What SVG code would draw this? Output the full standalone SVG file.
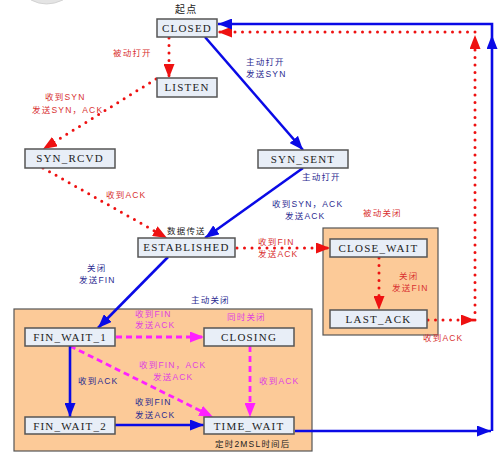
<svg xmlns="http://www.w3.org/2000/svg" width="499" height="453" viewBox="0 0 499 453">
<style>
.bx{fill:#e8eef7;stroke:#555;stroke-width:1.5}
.grp{fill:#fcca98;stroke:#555;stroke-width:1.2}
.bt{font-family:"Liberation Serif","DejaVu Serif",serif;font-size:11px;letter-spacing:1.2px;fill:#222;text-anchor:middle}
.lb{font-family:"Liberation Sans","Noto Sans CJK SC",sans-serif;font-size:8.5px;letter-spacing:1.2px}
.r{fill:#d83030}.b{fill:#2a2a90}.m{fill:#e040e0}.k{fill:#222}
.red{fill:none;stroke:#ee1111;stroke-width:3;stroke-dasharray:0 7.5;stroke-linecap:round}
.blue{fill:none;stroke:#0a0ae6;stroke-width:2.6}
.mag{fill:none;stroke:#ff20ff;stroke-width:2.8;stroke-dasharray:6 4}
</style>
<defs>
<marker id="ar" viewBox="0 0 14 11" refX="14" refY="5.5" markerWidth="14" markerHeight="11" orient="auto" markerUnits="userSpaceOnUse"><path d="M0,0L14,5.5L0,11z" fill="#ee1111"/></marker>
<marker id="ab" viewBox="0 0 14 11" refX="14" refY="5.5" markerWidth="14" markerHeight="11" orient="auto" markerUnits="userSpaceOnUse"><path d="M0,0L14,5.5L0,11z" fill="#0a0ae6"/></marker>
<marker id="am" viewBox="0 0 14 11" refX="14" refY="5.5" markerWidth="14" markerHeight="11" orient="auto" markerUnits="userSpaceOnUse"><path d="M0,0L14,5.5L0,11z" fill="#ff20ff"/></marker>
</defs>
<rect width="499" height="453" fill="#fff"/>
<path d="M31,0 Q46,8 63,0" fill="#e4e4e4" stroke="#ccc" stroke-width="0.8"/>
<g id="group-passive"><rect class="grp" x="323" y="228" width="115" height="107"/></g>
<g id="group-active"><rect class="grp" x="14" y="309" width="298" height="142"/></g>
<g id="connectors">
<path class="red" d="M169,38 L169,78" marker-end="url(#ar)"/>
<path class="red" d="M156,79 L43,149" marker-end="url(#ar)"/>
<path class="blue" d="M205,37 L303,150" marker-end="url(#ab)"/>
<path class="red" d="M43,168 L167,238" marker-end="url(#ar)"/>
<path class="blue" d="M303,168 L205,238" marker-end="url(#ab)"/>
<path class="red" d="M237,248 L330,248" marker-end="url(#ar)"/>
<path class="red" d="M379,258 L379,310" marker-end="url(#ar)"/>
<path class="red" d="M428,320 L475,320" marker-end="url(#ar)"/>
<path class="red" d="M475,320 L475,35" marker-end="url(#ar)"/>
<path class="red" d="M475,32 L218,32" marker-end="url(#ar)"/>
<path class="blue" d="M295,431 L491,431" marker-end="url(#ab)"/>
<path class="blue" d="M492,431 L492,35" marker-end="url(#ab)"/>
<path class="blue" d="M492,35 L492,24 L218,24" marker-end="url(#ab)"/>
<path class="blue" d="M168,257 L98,328" marker-end="url(#ab)"/>
<path class="mag" d="M116,337 L204,337" marker-end="url(#am)"/>
<path class="mag" d="M70,346 L213,417" marker-end="url(#am)"/>
<path class="blue" d="M70,346 L70,417" marker-end="url(#ab)"/>
<path class="blue" d="M115,425 L204,425" marker-end="url(#ab)"/>
<path class="mag" d="M250,346 L250,417" marker-end="url(#am)"/>
</g>
<g id="closed"><rect class="bx" x="157" y="19" width="60" height="18"/><text class="bt" x="187" y="32">CLOSED</text></g>
<g id="listen"><rect class="bx" x="157" y="78" width="60" height="19"/><text class="bt" x="187" y="91">LISTEN</text></g>
<g id="syn_rcvd"><rect class="bx" x="25" y="149" width="90" height="19"/><text class="bt" x="70" y="162">SYN_RCVD</text></g>
<g id="syn_sent"><rect class="bx" x="258" y="150" width="90" height="18"/><text class="bt" x="303" y="163">SYN_SENT</text></g>
<g id="established"><rect class="bx" x="138" y="238" width="97" height="19"/><text class="bt" x="186.5" y="251">ESTABLISHED</text></g>
<g id="close_wait"><rect class="bx" x="330" y="239" width="97" height="18"/><text class="bt" x="378.5" y="252">CLOSE_WAIT</text></g>
<g id="last_ack"><rect class="bx" x="330" y="310" width="97" height="18"/><text class="bt" x="378.5" y="323">LAST_ACK</text></g>
<g id="fin_wait_1"><rect class="bx" x="25" y="328" width="90" height="18"/><text class="bt" x="70" y="341">FIN_WAIT_1</text></g>
<g id="closing"><rect class="bx" x="204" y="328" width="90" height="18"/><text class="bt" x="249" y="341">CLOSING</text></g>
<g id="fin_wait_2"><rect class="bx" x="25" y="417" width="90" height="17"/><text class="bt" x="70" y="430">FIN_WAIT_2</text></g>
<g id="time_wait"><rect class="bx" x="204" y="417" width="90" height="17"/><text class="bt" x="249" y="430">TIME_WAIT</text></g>
<g id="labels">
<text class="lb k" x="175" y="13" style="font-size:10px">起点</text>
<text class="lb r" x="113" y="56">被动打开</text>
<text class="lb r" x="45" y="100">收到SYN</text>
<text class="lb r" x="32" y="113">发送SYN，ACK</text>
<text class="lb b" x="246" y="65">主动打开</text>
<text class="lb b" x="246" y="77">发送SYN</text>
<text class="lb r" x="106" y="198">收到ACK</text>
<text class="lb k" x="167" y="234">数据传送</text>
<text class="lb b" x="302" y="180">主动打开</text>
<text class="lb b" x="272" y="207">收到SYN，ACK</text>
<text class="lb b" x="285" y="219">发送ACK</text>
<text class="lb r" x="363" y="216">被动关闭</text>
<text class="lb r" x="258" y="245">收到FIN</text>
<text class="lb r" x="258" y="257">发送ACK</text>
<text class="lb r" x="399" y="279">关闭</text>
<text class="lb r" x="392" y="291">发送FIN</text>
<text class="lb r" x="423" y="341">收到ACK</text>
<text class="lb b" x="87" y="271">关闭</text>
<text class="lb b" x="79" y="283">发送FIN</text>
<text class="lb b" x="191" y="303">主动关闭</text>
<text class="lb m" x="135" y="317">收到FIN</text>
<text class="lb m" x="135" y="328">发送ACK</text>
<text class="lb m" x="227" y="320">同时关闭</text>
<text class="lb m" x="139" y="368">收到FIN，ACK</text>
<text class="lb m" x="153" y="380">发送ACK</text>
<text class="lb b" x="78" y="384">收到ACK</text>
<text class="lb b" x="135" y="405">收到FIN</text>
<text class="lb b" x="135" y="418">发送ACK</text>
<text class="lb m" x="259" y="384">收到ACK</text>
<text class="lb k" x="215" y="447">定时2MSL时间后</text>
</g>
</svg>
